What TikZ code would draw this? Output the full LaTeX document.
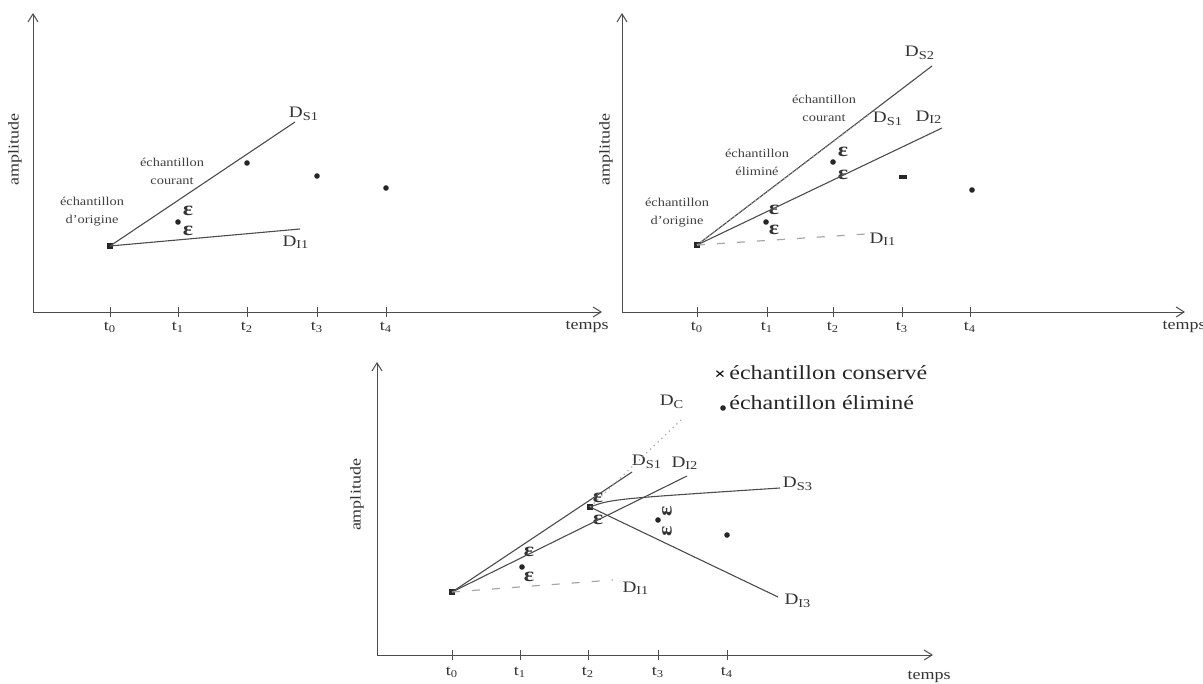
\documentclass[tikz,border=0pt]{standalone}
\usepackage{fontspec}
\setmainfont{Liberation Serif}[FakeStretch=1.2]
\usetikzlibrary{arrows.meta}
\begin{document}
\begin{tikzpicture}[x=0.5pt,y=-0.5pt,
  axis/.style={draw=black!70, line width=0.5pt, -{Straight Barb[length=4pt,width=5pt]}},
  ln/.style={draw=black!70, line width=0.55pt},
  tick/.style={draw=black!70, line width=0.5pt},
  faintdot/.style={draw=black!35, line width=0.6pt, dotted},
  faintdash/.style={draw=black!35, line width=0.6pt, dash pattern=on 4pt off 6pt},
  lab/.style={font=\fontsize{8}{9}\selectfont, text=black!80, inner sep=0pt},
  tlab/.style={font=\fontsize{7.5}{9}\selectfont, text=black!80, inner sep=0pt},
  small/.style={font=\fontsize{6}{9}\selectfont, align=center, text=black!75, inner sep=0pt},
  eps/.style={font=\fontsize{10}{12}\selectfont\bfseries, text=black!80, inner sep=0pt},
  leg/.style={font=\fontsize{10}{12}\selectfont, text=black!85, anchor=west, inner sep=0pt},
  dotpt/.style={circle, fill=black!85, inner sep=0pt, minimum size=2.8pt},
  sqpt/.style={rectangle, fill=black!85, inner sep=0pt, minimum size=3.4pt},
  dashpt/.style={rectangle, fill=black!85, inner sep=0pt, minimum width=4pt, minimum height=1.8pt}
]
\useasboundingbox (0,0) rectangle (1203,684);

% ================= Panel 1 (top left) =================
\coordinate (o1) at (33,312);
\coordinate (y1) at (33,13);
\coordinate (x1) at (602,312);
\draw[axis] (o1) -- (y1);
\draw[axis] (o1) -- (x1);
\foreach \x in {110,178,247,317,386} \draw[tick] (\x,307) -- (\x,317);
\node[tlab] (p1t0) at (110,327) {t\textsubscript{0}};
\node[tlab] (p1t1) at (178,327) {t\textsubscript{1}};
\node[tlab] (p1t2) at (247,327) {t\textsubscript{2}};
\node[tlab] (p1t3) at (317,327) {t\textsubscript{3}};
\node[tlab] (p1t4) at (386,327) {t\textsubscript{4}};
\node[tlab] (p1temps) at (587,327) {temps};
\node[tlab, rotate=90] (p1amp) at (15,150) {amplitude};

\node[sqpt] (a0) at (110,246) {};
\node[dotpt] (a1) at (178,222) {};
\node[dotpt] (a2) at (247,163) {};
\node[dotpt] (a3) at (317,176) {};
\node[dotpt] (a4) at (386,188) {};
\node[eps] (a1u) at (188,211) {ε};
\node[eps] (a1d) at (188,231) {ε};

\coordinate (aS1) at (295,122);
\draw[ln] (a0.center) -- (aS1);
\node[lab] (aS1l) at (304,114) {D\textsubscript{S1}};
\coordinate (aI1) at (300,229);
\draw[ln] (a0.center) -- (aI1);
\node[lab] (aI1l) at (296,242) {D\textsubscript{I1}};
\node[small] (a2txt) at (172,171) {échantillon\\courant};
\node[small] (a0txt) at (92,212) {échantillon\\d'origine};

% ================= Panel 2 (top right) =================
\coordinate (o2) at (622,312);
\coordinate (y2) at (622,13);
\coordinate (x2) at (1185,312);
\draw[axis] (o2) -- (y2);
\draw[axis] (o2) -- (x2);
\foreach \x in {697,767,833,902,970} \draw[tick] (\x,307) -- (\x,317);
\node[tlab] (p2t0) at (697,327) {t\textsubscript{0}};
\node[tlab] (p2t1) at (767,327) {t\textsubscript{1}};
\node[tlab] (p2t2) at (833,327) {t\textsubscript{2}};
\node[tlab] (p2t3) at (902,327) {t\textsubscript{3}};
\node[tlab] (p2t4) at (970,327) {t\textsubscript{4}};
\node[tlab] (p2temps) at (1184,327) {temps};
\node[tlab, rotate=90] (p2amp) at (606,150) {amplitude};

\node[sqpt] (b0) at (697,245) {};
\node[dotpt] (b1) at (766,222) {};
\node[dotpt] (b2) at (833,162) {};
\node[dashpt] (b3) at (903,177) {};
\node[dotpt] (b4) at (972,190) {};
\node[eps] (b1u) at (774,210) {ε};
\node[eps] (b1d) at (774,230) {ε};
\node[eps] (b2u) at (843,152) {ε};
\node[eps] (b2d) at (843,175) {ε};

\coordinate (bS2) at (932,66);
\draw[ln] (b0.center) -- (bS2);
\node[lab] (bS2l) at (920,53) {D\textsubscript{S2}};
\coordinate (bI2) at (942,128);
\draw[ln] (b0.center) -- (bI2);
\node[lab] (bI2l) at (929,117) {D\textsubscript{I2}};
\coordinate (bS1) at (870,114);
\draw[faintdot] (b0.center) -- (bS1);
\node[lab] (bS1l) at (888,119) {D\textsubscript{S1}};
\coordinate (bI1) at (866,234);
\draw[faintdash] (b0.center) -- (bI1);
\node[lab] (bI1l) at (883,239) {D\textsubscript{I1}};
\node[small] (b0txt) at (677,213) {échantillon\\d'origine};
\node[small] (b1txt) at (757,162) {échantillon\\éliminé};
\node[small] (b2txt) at (824,108) {échantillon\\courant};

% ================= Panel 3 (bottom) =================
\coordinate (o3) at (377,655);
\coordinate (y3) at (377,362);
\coordinate (x3) at (933,655);
\draw[axis] (o3) -- (y3);
\draw[axis] (o3) -- (x3);
\foreach \x in {452,520,588,658,727} \draw[tick] (\x,650) -- (\x,660);
\node[tlab] (p3t0) at (452,672) {t\textsubscript{0}};
\node[tlab] (p3t1) at (520,672) {t\textsubscript{1}};
\node[tlab] (p3t2) at (588,672) {t\textsubscript{2}};
\node[tlab] (p3t3) at (658,672) {t\textsubscript{3}};
\node[tlab] (p3t4) at (727,672) {t\textsubscript{4}};
\node[tlab] (p3temps) at (929,677) {temps};
\node[tlab, rotate=90] (p3amp) at (357,495) {amplitude};

\node[sqpt] (c0) at (452,592) {};
\node[dotpt] (c1) at (522,567) {};
\node[sqpt] (c2) at (590,507) {};
\node[dotpt] (c3) at (658,520) {};
\node[dotpt] (c4) at (727,535) {};
\node[eps] (c1u) at (529,552) {ε};
\node[eps] (c1d) at (529,577) {ε};
\node[eps] (c2u) at (598,498) {ε};
\node[eps] (c2d) at (598,520) {ε};
\node[eps, rotate=90] (c3u) at (667,511) {ε};
\node[eps, rotate=90] (c3d) at (667,531) {ε};

\coordinate (cS1) at (632,472);
\draw[ln] (c0.center) -- (cS1);
\node[lab] (cS1l) at (647,462) {D\textsubscript{S1}};
\coordinate (cI2) at (687,476);
\draw[ln] (c0.center) -- (cI2);
\node[lab] (cI2l) at (685,463) {D\textsubscript{I2}};
\coordinate (cS3) at (780,488);
\draw[ln] (c2.center) .. controls (612,499) .. (cS3);
\node[lab] (cS3l) at (798,484) {D\textsubscript{S3}};
\coordinate (cI3) at (778,597);
\draw[ln] (c2.center) -- (cI3);
\node[lab] (cI3l) at (798,601) {D\textsubscript{I3}};
\coordinate (cI1) at (613,580);
\draw[faintdash] (c0.center) -- (cI1);
\node[lab] (cI1l) at (636,588) {D\textsubscript{I1}};
\coordinate (cC) at (681,420);
\draw[faintdot] (c2.center) -- (cC);
\node[lab] (cCl) at (672,402) {D\textsubscript{C}};

% ================= Legend =================
\node[font=\fontsize{8}{9}\selectfont\bfseries, inner sep=0pt] (legx) at (720,375) {×};
\node[leg] (leg1) at (729,373) {échantillon conservé};
\node[dotpt] (legdot) at (723,408) {};
\node[leg] (leg2) at (729,403) {échantillon éliminé};
\end{tikzpicture}
\end{document}
